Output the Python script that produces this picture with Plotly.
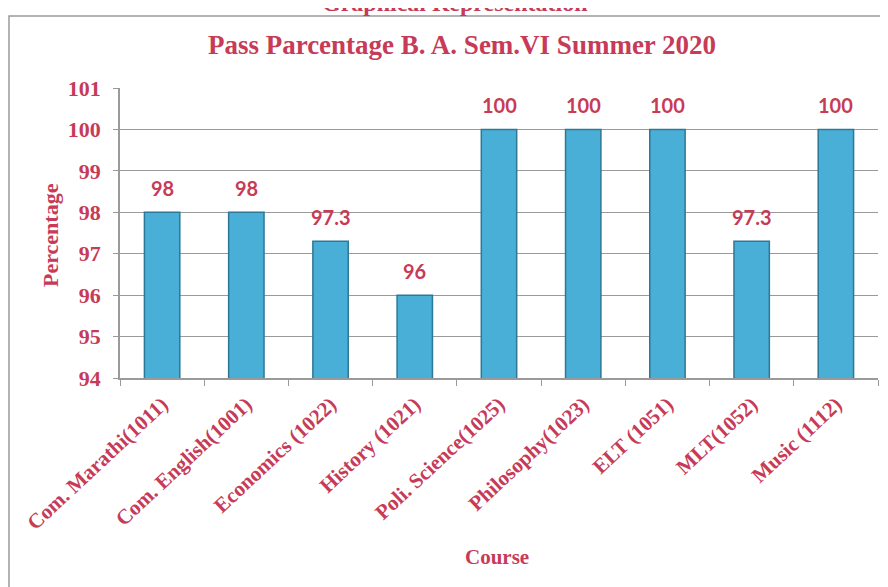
import plotly.graph_objects as go

courses = ["Com. Marathi(1011)", "Com. English(1001)", "Economics (1022)", "History (1021)",
           "Poli. Science(1025)", "Philosophy(1023)", "ELT (1051)", "MLT(1052)", "Music (1112)"]
pass_pct = [98, 98, 97.3, 96, 100, 100, 100, 97.3, 100]
y_ticks = [94, 95, 96, 97, 98, 99, 100, 101]

RED = "#C73B58"
SERIF = "Liberation Serif"

fig = go.Figure()
fig.add_trace(go.Bar(
    x=courses, y=pass_pct,
    marker=dict(color="#4AAFD6", line=dict(color="#2C7896", width=1.5)),
    cliponaxis=False,
))

for c, v in zip(courses, pass_pct):
    fig.add_annotation(x=c, y=v, text=f"<b>{v}</b>", showarrow=False,
                       xanchor="center", yanchor="bottom", yshift=10,
                       font=dict(family="Lato", size=20, color=RED))

fig.update_layout(
    width=888, height=587,
    margin=dict(l=112, r=18, t=80, b=217),
    paper_bgcolor="white", plot_bgcolor="white",
    bargap=0.58, showlegend=False,
    title=dict(text="<b>Pass Parcentage B. A. Sem.VI Summer 2020</b>",
               x=454 / 888, xref="container", xanchor="center",
               y=1 - 37 / 587, yref="container", yanchor="middle",
               font=dict(family=SERIF, size=27, color=RED)),
    xaxis=dict(
        tickangle=-43, tickfont=dict(family=SERIF, size=21, color=RED, weight="bold"),
        showline=True, linecolor="#9a9a9a", linewidth=1.5,
        ticks="outside", tickson="boundaries", ticklen=6, tickcolor="#9a9a9a",
        ticklabelstandoff=4, automargin=False,
    ),
    yaxis=dict(
        range=[94, 101], tickvals=y_ticks,
        tickfont=dict(family=SERIF, size=22, color=RED, weight="bold"),
        showgrid=True, gridcolor="#9a9a9a", gridwidth=1,
        showline=True, linecolor="#9a9a9a", linewidth=1.5,
        ticks="outside", ticklen=5, tickcolor="#9a9a9a",
        ticklabelstandoff=8, zeroline=False, automargin=False,
    ),
)

fig.add_annotation(text="<b>Percentage</b>", xref="paper", yref="paper",
                   x=(50 - 120) / 758, y=(378 - 235) / 290, textangle=-90,
                   xanchor="center", yanchor="middle", showarrow=False,
                   font=dict(family=SERIF, size=22, color=RED))
fig.add_annotation(text="<b>Course</b>", xref="paper", yref="paper",
                   x=(497 - 120) / 758, y=(378 - 557) / 290,
                   xanchor="center", yanchor="middle", showarrow=False,
                   font=dict(family=SERIF, size=21, color=RED))

fig.add_shape(type="rect", xref="paper", yref="paper",
              x0=(9 - 120) / 758, x1=1.05, y0=-1.0, y1=1 + (88 - 16) / 290,
              line=dict(color="#9a9a9a", width=1.5), layer="below")

fig.add_annotation(text="<b>Graphical Representation</b>", xref="paper", yref="paper",
                   x=(455 - 120) / 758, y=1 + (88 - 18) / 290, xanchor="center", yanchor="bottom",
                   showarrow=False, font=dict(family=SERIF, size=24, color=RED))

fig.write_html("out.html")
